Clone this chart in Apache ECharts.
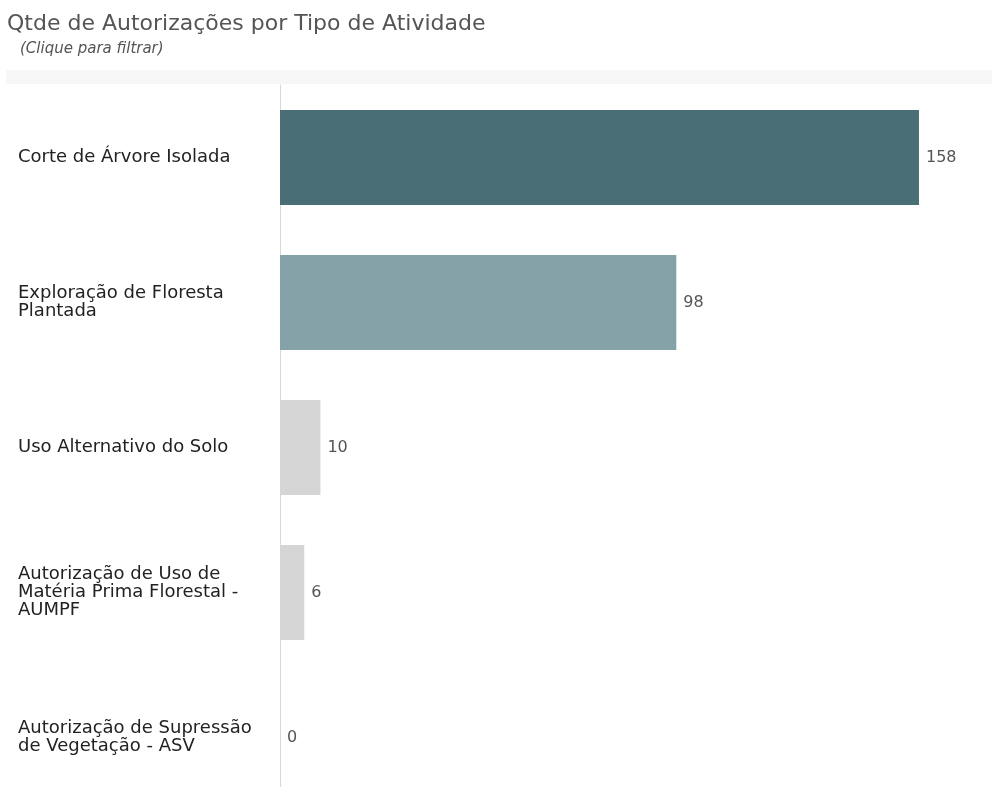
<!DOCTYPE html>
<html><head><meta charset="utf-8">
<script src="https://cdn.jsdelivr.net/npm/echarts@6/dist/echarts.min.js"></script>
<style>html,body{margin:0;padding:0;background:#fff;overflow:hidden}#c{width:992px;height:810px}</style>
</head><body><div id="c"></div>
<script>
const categories = [
  'Corte de Árvore Isolada',
  'Exploração de Floresta\nPlantada',
  'Uso Alternativo do Solo',
  'Autorização de Uso de\nMatéria Prima Florestal -\nAUMPF',
  'Autorização de Supressão\nde Vegetação - ASV'
];
const values = [158, 98, 10, 6, 0];
const barColors = ['#4a6e76', '#85a2a9', '#d5d5d5', '#d5d5d5', '#d5d5d5'];

const chart = echarts.init(document.getElementById('c'));
chart.setOption({
  animation: false,
  title: [{
    text: 'Qtde de Autorizações por Tipo de Atividade',
    left: 7, top: 13, padding: 0,
    textStyle: {fontFamily: 'DejaVu Sans', fontSize: 22, fontWeight: 'normal', color: '#555'}
  }, {
    text: '(Clique para filtrar)',
    left: 20, top: 42, padding: 0,
    textStyle: {fontFamily: 'DejaVu Sans', fontSize: 15, fontStyle: 'italic', fontWeight: 'normal', color: '#555'}
  }],
  graphic: [{type: 'rect', shape: {x: 6, y: 70, width: 986, height: 14}, style: {fill: '#f7f7f7'}, z: -1}],
  grid: {left: 280, top: 85, width: 687.5, bottom: 0, containLabel: false},
  xAxis: {type: 'value', min: 0, max: 170, show: false},
  yAxis: {
    type: 'category', data: categories, inverse: true,
    axisLine: {show: true, lineStyle: {color: '#cfcfcf', type: 'dotted', width: 1}},
    axisTick: {show: false},
    axisLabel: {align: 'left', margin: 262, fontFamily: 'DejaVu Sans', fontSize: 18, color: '#222', lineHeight: 18}
  },
  series: [{
    type: 'bar',
    data: values.map((v, i) => ({value: v, itemStyle: {color: barColors[i]}})),
    barCategoryGap: '34.5%',
    label: {show: true, position: 'right', distance: 7, fontFamily: 'DejaVu Sans', fontSize: 16, color: '#555'}
  }]
});
</script></body></html>
